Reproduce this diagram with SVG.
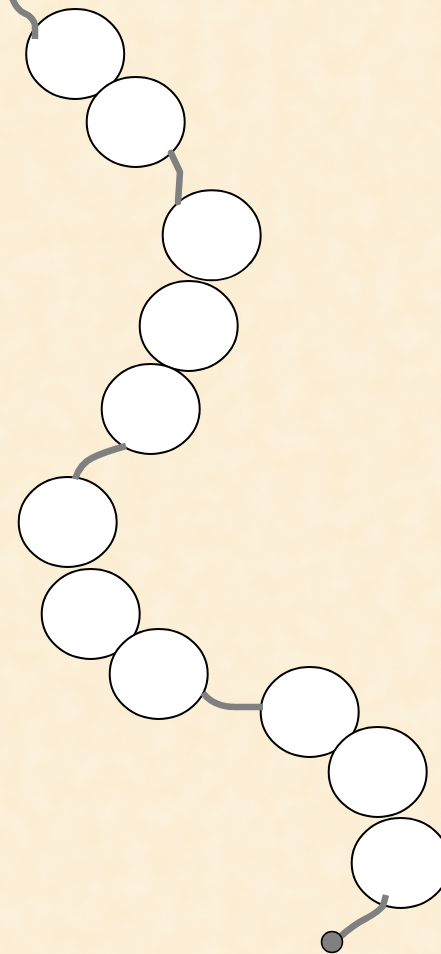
<svg xmlns="http://www.w3.org/2000/svg" width="441" height="954" viewBox="0 0 441 954">
<style>
.n{fill:#fff;stroke:#000;stroke-width:2}
.c{fill:none;stroke:#808080;stroke-width:6.5;stroke-linejoin:round}
</style>
<defs>
<filter id="tex" x="0" y="0" width="100%" height="100%">
<feTurbulence type="fractalNoise" baseFrequency="0.04" numOctaves="3" seed="4"/>
<feColorMatrix values="0 0 0 0 0.99  0 0 0 0 0.93  0 0 0 0 0.82  0 0 0 -1.2 0.9"/>
<feComposite in2="SourceGraphic" operator="in"/>
</filter>
</defs>
<rect width="441" height="954" fill="#FBEDD2"/>
<rect width="441" height="954" fill="#FDF3E0" filter="url(#tex)" opacity="0.6"/>
<g id="n1"><ellipse class="n" cx="75.2" cy="54" rx="49" ry="45"/></g>
<g id="n2"><ellipse class="n" cx="135.7" cy="122" rx="49" ry="45"/></g>
<g id="n3"><ellipse class="n" cx="211.7" cy="235.3" rx="49" ry="45"/></g>
<g id="n4"><ellipse class="n" cx="188.7" cy="326" rx="49" ry="45"/></g>
<g id="n5"><ellipse class="n" cx="150.7" cy="409" rx="49" ry="45"/></g>
<g id="n6"><ellipse class="n" cx="67.7" cy="522" rx="49" ry="45"/></g>
<g id="n7"><ellipse class="n" cx="90.7" cy="614" rx="49" ry="45"/></g>
<g id="n8"><ellipse class="n" cx="158.7" cy="674" rx="49" ry="45"/></g>
<g id="n9"><ellipse class="n" cx="309.7" cy="712" rx="49" ry="45"/></g>
<g id="n10"><ellipse class="n" cx="377.7" cy="772" rx="49" ry="45"/></g>
<g id="n11"><ellipse class="n" cx="400.7" cy="863" rx="49" ry="45"/></g>
<g id="connectors">
<path class="c" d="M12,-2 Q17,10 24,13 Q33,17 35,25 L35,39"/>
<path class="c" d="M171,153 L180,172 L178,202" stroke-linecap="round"/>
<path class="c" d="M126,446 Q104,452 92,458 Q80,464 75,479"/>
<path class="c" d="M203,693 Q214,707 235,707 L263,707"/>
<path class="c" d="M386,895 L383,906 Q378,912 367,918 Q353,925 340,937"/>
<circle cx="332" cy="942" r="10.5" fill="#808080" stroke="#000" stroke-width="1.5"/>
</g>
</svg>
